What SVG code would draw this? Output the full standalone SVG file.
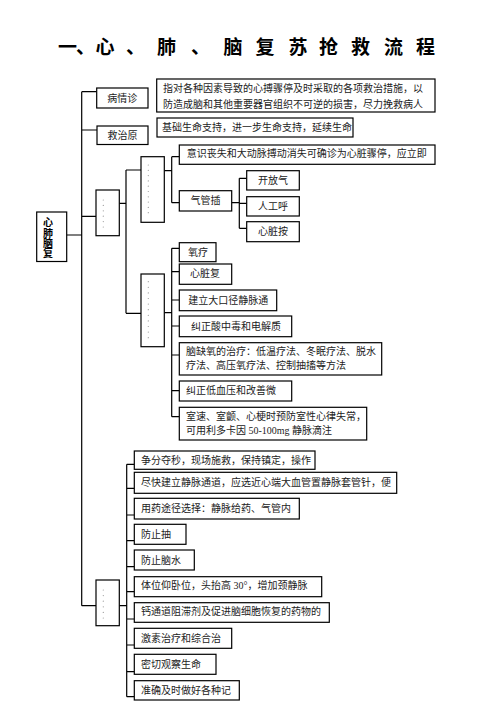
<svg xmlns="http://www.w3.org/2000/svg" width="496" height="702" viewBox="0 0 496 702">
<style>
.bg{fill:#fff}
.box{fill:#fff;stroke:#000;stroke-width:1.2}
.t{font-family:"Liberation Serif","Noto Sans CJK SC",serif;font-size:10px;fill:#222}
.c{text-anchor:middle}
.title{font-family:"Noto Sans CJK SC",sans-serif;font-size:19px;font-weight:bold;fill:#000}
.root{font-family:"Noto Sans CJK SC",sans-serif;font-size:10px;font-weight:bold;fill:#000;writing-mode:vertical-rl;letter-spacing:0.3px}
.con{fill:none;stroke:#000;stroke-width:1.2}
.dot{fill:#999}
</style>
<rect class="bg" x="0" y="0" width="496" height="702"/>
<g id="title">
<text class="title" y="53.5"><tspan x="58">一</tspan><tspan x="76">、</tspan><tspan x="95.5">心</tspan><tspan x="126">、</tspan><tspan x="157">肺</tspan><tspan x="191">、</tspan><tspan x="223.5">脑</tspan><tspan x="255.5">复</tspan><tspan x="288.5">苏</tspan><tspan x="319">抢</tspan><tspan x="351">救</tspan><tspan x="384">流</tspan><tspan x="416">程</tspan></text>
</g>
<g id="connectors">
<path class="con" d="M81.7 91.7V605.7M81.7 91.7H96.7M81.7 130H97M66.7 235H81.7M81.7 216.3H96"/>
<path class="con" d="M119.3 203.3H126M126 170V313.3M126 170H141M126 313.3H141"/>
<path class="con" d="M164.3 170.7H171.7M171.7 156.7V202.7M171.7 156.7H179.3M171.7 202.7H179.3"/>
<path class="con" d="M231.7 202.7H239.3M239.3 178.3V228.3M239.3 178.3H246.7M239.3 203.3H246.7M239.3 228.3H246.7"/>
<path class="con" d="M164.3 312.7H171.7M171.7 248.3V416.7M171.7 248.3H179.3M171.7 271.7H179.3M171.7 300H179.3M171.7 326H179.3M171.7 355H179.3M171.7 390.7H179.3M171.7 416.7H179.3"/>
<path class="con" d="M81.7 605.7H96M119.3 605.7H126.7M126.7 464.3V696.7M126.7 464.3H134.3M126.7 488.3H134.3M126.7 515H134.3M126.7 540.7H134.3M126.7 566.7H134.3M126.7 591.7H134.3M126.7 619H134.3M126.7 645H134.3M126.7 671.7H134.3M126.7 696.7H134.3"/>
</g>
<g id="root">
<rect class="box" x="36.7" y="212" width="30" height="49.5"/>
<text class="root" x="48" y="217.5">心肺脑复</text>
</g>
<g id="n-bingqing">
<rect class="box" x="96.7" y="88" width="51.3" height="20"/>
<text class="t c" x="122.3" y="101.6">病情诊</text>
</g>
<g id="n-bingqing-desc">
<rect class="box" x="156.7" y="79" width="278.3" height="33"/>
<text class="t" x="163"><tspan x="163" y="91.6">指对各种因素导致的心搏骤停及时采取的各项救治措施，以</tspan><tspan x="163" y="107.6">防造成脑和其他重要器官组织不可逆的损害，尽力挽救病人</tspan></text>
</g>
<g id="n-jiuzhi">
<rect class="box" x="97" y="126" width="51" height="18.5"/>
<text class="t c" x="122.5" y="138.8">救治原</text>
</g>
<g id="n-jiuzhi-desc">
<rect class="box" x="157" y="118" width="196" height="19"/>
<text class="t" x="162" y="131.2">基础生命支持，进一步生命支持，延续生命</text>
</g>
<g id="n-a">
<rect class="box" x="96" y="190" width="23.3" height="45.7"/>
<circle class="dot" cx="103.3" cy="200" r="0.6"/><circle class="dot" cx="103.3" cy="205.4" r="0.6"/><circle class="dot" cx="103.3" cy="210.8" r="0.6"/><circle class="dot" cx="103.3" cy="216.2" r="0.6"/><circle class="dot" cx="103.3" cy="221.6" r="0.6"/><circle class="dot" cx="103.3" cy="227" r="0.6"/>
</g>
<g id="n-b">
<rect class="box" x="141" y="156.7" width="23.3" height="65.6"/>
<circle class="dot" cx="148.3" cy="165" r="0.6"/><circle class="dot" cx="148.3" cy="170.3" r="0.6"/><circle class="dot" cx="148.3" cy="175.6" r="0.6"/><circle class="dot" cx="148.3" cy="180.9" r="0.6"/><circle class="dot" cx="148.3" cy="186.2" r="0.6"/><circle class="dot" cx="148.3" cy="191.5" r="0.6"/><circle class="dot" cx="148.3" cy="196.8" r="0.6"/><circle class="dot" cx="148.3" cy="202.1" r="0.6"/><circle class="dot" cx="148.3" cy="207.4" r="0.6"/><circle class="dot" cx="148.3" cy="212.7" r="0.6"/>
</g>
<g id="n-c">
<rect class="box" x="141" y="274" width="23.3" height="72.7"/>
<circle class="dot" cx="148.3" cy="281.7" r="0.6"/><circle class="dot" cx="148.3" cy="287.3" r="0.6"/><circle class="dot" cx="148.3" cy="292.9" r="0.6"/><circle class="dot" cx="148.3" cy="298.5" r="0.6"/><circle class="dot" cx="148.3" cy="304.1" r="0.6"/><circle class="dot" cx="148.3" cy="309.7" r="0.6"/><circle class="dot" cx="148.3" cy="315.3" r="0.6"/><circle class="dot" cx="148.3" cy="320.9" r="0.6"/><circle class="dot" cx="148.3" cy="326.5" r="0.6"/><circle class="dot" cx="148.3" cy="332.1" r="0.6"/><circle class="dot" cx="148.3" cy="337.7" r="0.6"/>
</g>
<g id="n-d">
<rect class="box" x="96" y="580" width="23.3" height="45.7"/>
<circle class="dot" cx="103.3" cy="590" r="0.6"/><circle class="dot" cx="103.3" cy="595.6" r="0.6"/><circle class="dot" cx="103.3" cy="601.2" r="0.6"/><circle class="dot" cx="103.3" cy="606.8" r="0.6"/><circle class="dot" cx="103.3" cy="612.4" r="0.6"/><circle class="dot" cx="103.3" cy="618" r="0.6"/>
</g>
<g id="n-yishi">
<rect class="box" x="179.3" y="145" width="255.7" height="19.3"/>
<text class="t" x="186.7" y="157.2">意识丧失和大动脉搏动消失可确诊为心脏骤停，应立即</text>
</g>
<g id="n-qiguan">
<rect class="box" x="179.3" y="190.7" width="52.4" height="20.3"/>
<text class="t c" x="205.5" y="204">气管插</text>
</g>
<g id="n-kaifang">
<rect class="box" x="246.7" y="170.7" width="52.6" height="19.3"/>
<text class="t c" x="273" y="184">开放气</text>
</g>
<g id="n-rengong">
<rect class="box" x="246.7" y="196.7" width="52.6" height="19.3"/>
<text class="t c" x="273" y="210">人工呼</text>
</g>
<g id="n-xinzang">
<rect class="box" x="246.7" y="221.7" width="52.6" height="20"/>
<text class="t c" x="273" y="235.3">心脏按</text>
</g>
<g id="n-yangliao">
<rect class="box" x="179.3" y="242.7" width="36.7" height="19"/>
<text class="t" x="188" y="255.8">氧疗</text>
</g>
<g id="n-xinzangfu">
<rect class="box" x="179.3" y="264" width="52.4" height="20.3"/>
<text class="t" x="190" y="277.4">心脏复</text>
</g>
<g id="n-jianli">
<rect class="box" x="179.3" y="290" width="97.4" height="20.7"/>
<text class="t" x="188.3" y="303.8">建立大口径静脉通</text>
</g>
<g id="n-jiuzheng">
<rect class="box" x="179.3" y="316" width="112.4" height="20.7"/>
<text class="t" x="191" y="329.8">纠正酸中毒和电解质</text>
</g>
<g id="n-naoque">
<rect class="box" x="179.3" y="342.7" width="202.4" height="32.3"/>
<text class="t" x="186"><tspan x="186" y="354.8">脑缺氧的治疗：低温疗法、冬眠疗法、脱水</tspan><tspan x="186" y="368.8">疗法、高压氧疗法、控制抽搐等方法</tspan></text>
</g>
<g id="n-dixueya">
<rect class="box" x="179.3" y="381" width="112.4" height="20"/>
<text class="t" x="186" y="394.4">纠正低血压和改善微</text>
</g>
<g id="n-shisu">
<rect class="box" x="179.3" y="407.3" width="187.4" height="32.7"/>
<text class="t" x="186"><tspan x="186" y="420.3">室速、室颤、心梗时预防室性心律失常，</tspan><tspan x="186" y="433.8">可用利多卡因 50-100mg 静脉滴注</tspan></text>
</g>
<g id="n-zhengfen">
<rect class="box" x="134.3" y="451" width="180.7" height="18.3"/>
<text class="t" x="141" y="463.7">争分夺秒，现场施救，保持镇定，操作</text>
</g>
<g id="n-jinkuai">
<rect class="box" x="134.3" y="472.3" width="262.4" height="21"/>
<text class="t" x="141" y="486.4">尽快建立静脉通道，应选近心端大血管置静脉套管针，便</text>
</g>
<g id="n-yongyao">
<rect class="box" x="134.3" y="498.3" width="165" height="20.7"/>
<text class="t" x="141" y="512">用药途径选择：静脉给药、气管内</text>
</g>
<g id="n-fangchou">
<rect class="box" x="134.3" y="524.3" width="51.7" height="20"/>
<text class="t" x="141" y="537.8">防止抽</text>
</g>
<g id="n-fangnao">
<rect class="box" x="134.3" y="550" width="60" height="20"/>
<text class="t" x="141" y="563.6">防止脑水</text>
</g>
<g id="n-tiwei">
<rect class="box" x="134.3" y="576.7" width="187.4" height="20"/>
<text class="t" x="141" y="589.3">体位仰卧位，头抬高 30°，增加颈静脉</text>
</g>
<g id="n-gaitong">
<rect class="box" x="134.3" y="602.7" width="195" height="19.6"/>
<text class="t" x="141" y="615.3">钙通道阻滞剂及促进脑细胞恢复的药物的</text>
</g>
<g id="n-jisu">
<rect class="box" x="134.3" y="628.3" width="97.4" height="20"/>
<text class="t" x="141" y="641.9">激素治疗和综合治</text>
</g>
<g id="n-miqie">
<rect class="box" x="134.3" y="654.3" width="81.7" height="20"/>
<text class="t" x="141" y="667.9">密切观察生命</text>
</g>
<g id="n-zhunque">
<rect class="box" x="134.3" y="680.7" width="105" height="19.3"/>
<text class="t" x="141" y="693.9">准确及时做好各种记</text>
</g>
</svg>
